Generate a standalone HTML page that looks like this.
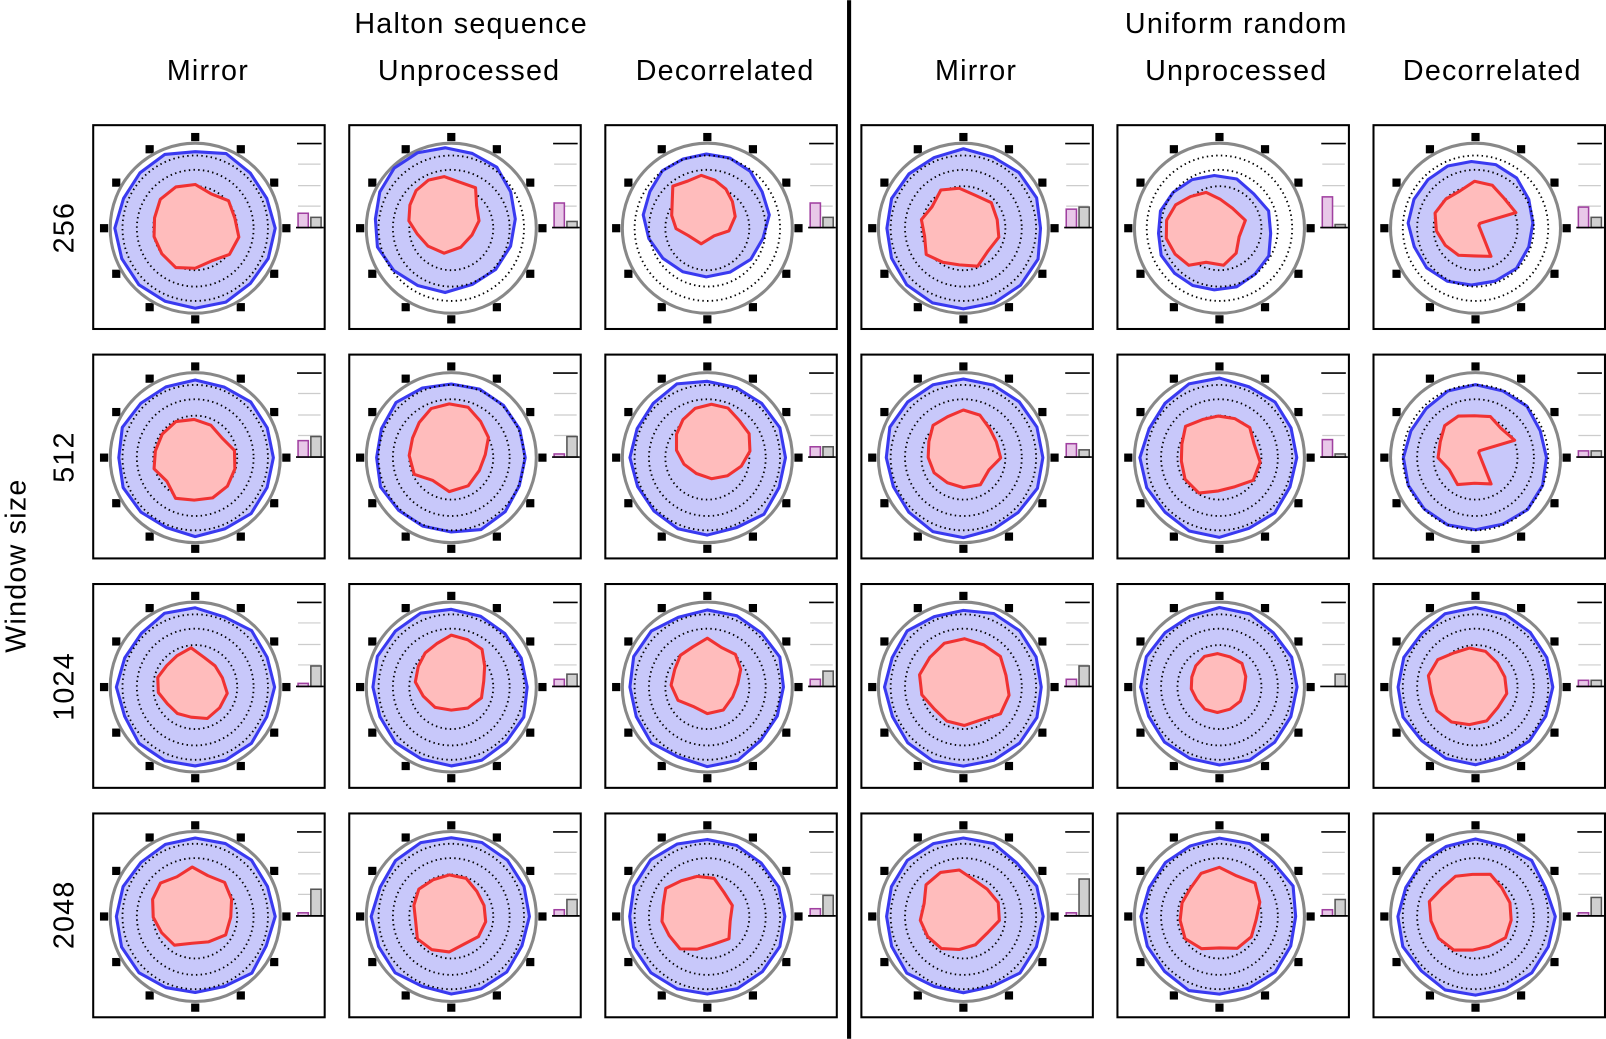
<!DOCTYPE html>
<html><head><meta charset="utf-8">
<style>
html,body{margin:0;padding:0;background:#fff;}
svg{display:block;}
text{font-family:"Liberation Sans",sans-serif;fill:#000;letter-spacing:1.2px;}
</style></head>
<body>
<svg id="s" width="1606" height="1039" viewBox="0 0 1568 1014" xmlns="http://www.w3.org/2000/svg">
<text x="460" y="32" font-size="28" text-anchor="middle">Halton sequence</text>
<text x="1207" y="32" font-size="28" text-anchor="middle">Uniform random</text>
<text x="203" y="78" font-size="28" text-anchor="middle">Mirror</text>
<text x="458" y="78" font-size="28" text-anchor="middle">Unprocessed</text>
<text x="708" y="78" font-size="28" text-anchor="middle">Decorrelated</text>
<text x="953" y="78" font-size="28" text-anchor="middle">Mirror</text>
<text x="1207" y="78" font-size="28" text-anchor="middle">Unprocessed</text>
<text x="1457" y="78" font-size="28" text-anchor="middle">Decorrelated</text>
<rect x="827" y="0" width="4" height="1014" fill="#000"/>
<text transform="translate(25,552) rotate(-90)" font-size="28" text-anchor="middle">Window size</text>
<text transform="translate(72,222) rotate(-90)" font-size="28" text-anchor="middle">256</text>
<text transform="translate(72,446) rotate(-90)" font-size="28" text-anchor="middle">512</text>
<text transform="translate(72,670) rotate(-90)" font-size="28" text-anchor="middle">1024</text>
<text transform="translate(72,893) rotate(-90)" font-size="28" text-anchor="middle">2048</text>
<g id="g"></g>
</svg>
<script>
var lefts=[91,341,591,841,1091,1341], tops=[122,346,570,794];
var P=[
[[[0,0,77],[0,-1,40,0],[14,10]],[[-6,-9,70],[-7,-15,36,0],[24,6]],[[-1,-13,60],[-6,-19,32,0],[24,10]],
 [[0,0,77],[-4,0,38,0],[18,20]],[[-5,5,56],[-13,1,36,0],[30,3]],[[-4,-5,61],[-1,-6,36,1],[20,10]]],
[[[0,0,76],[-1,2,38,0],[16,20]],[[0,0,74],[-2,-11,40,0],[3,20]],[[0,0,76],[4,-15,35,0],[10,10]],
 [[0,0,76],[0,-8,35,0],[13,7]],[[0,0,76],[-1,-5,40,0],[17,3]],[[0,0,70],[-1,-8,35,1],[6,6]]],
[[[0,0,76],[-4,-2,33,0],[3,20]],[[0,0,76],[0,-13,36,0],[7,12]],[[0,0,76],[0,-10,34,0],[7,15]],
 [[0,0,76],[1,-2,42,0],[7,20]],[[0,0,76],[-2,-4,28,0],[0,12]],[[0,0,76],[-6,-2,38,0],[6,6]]],
[[[0,0,76],[-3,-8,38,0],[3,26]],[[0,0,76],[-2,-3,37,0],[6,16]],[[0,0,76],[-10,-3,37,0],[7,20]],
 [[0,0,76],[-4,-5,38,0],[3,36]],[[0,0,76],[0,-5,40,0],[6,16]],[[0,0,76],[-3,-5,40,0],[3,18]]]
];
var seed=7;function rnd(){seed=(seed*16807)%2147483647;return seed/2147483647;}
function poly(cx,cy,r,n,amp,notch){var pts=[];for(var i=0;i<n;i++){var a=-Math.PI/2+i*2*Math.PI/n;var rr=r*(1+(rnd()-0.5)*amp);
 if(notch&&(i==4||i==5))rr=r*0.15; if(notch&&i==3)rr=r*1.15;
 pts.push((cx+rr*Math.cos(a)).toFixed(1)+","+(cy+rr*Math.sin(a)).toFixed(1));}return pts.join(" ");}
var h="";
for(var r=0;r<4;r++)for(var c=0;c<6;c++){
 var x=lefts[c],y=tops[r],cx=x+99.6,cy=y+100.6,d=P[r][c];
 h+='<rect x="'+x+'" y="'+y+'" width="226" height="199" fill="#fff" stroke="#000" stroke-width="2"/>';
 for(var k=0;k<12;k++){var a=k*Math.PI/6;h+='<rect x="'+(cx+89*Math.cos(a)-4).toFixed(1)+'" y="'+(cy+89*Math.sin(a)-4).toFixed(1)+'" width="8" height="8" fill="#000"/>';}
 h+='<circle cx="'+cx+'" cy="'+cy+'" r="83" fill="none" stroke="#888" stroke-width="3"/>';
 h+='<polygon points="'+poly(cx+d[0][0],cy+d[0][1],d[0][2],16,0.06,0)+'" fill="#c8c8fa" stroke="#3a3af0" stroke-width="3" stroke-linejoin="round"/>';
 [71,57,41].forEach(function(rr){h+='<circle cx="'+cx+'" cy="'+cy+'" r="'+rr+'" fill="none" stroke="#000" stroke-width="1.8" stroke-dasharray="1.4,3.2"/>';});
 h+='<polygon points="'+poly(cx+d[1][0],cy+d[1][1],d[1][2],14,0.22,d[1][3])+'" fill="#ffbcbc" stroke="#f03232" stroke-width="3" stroke-linejoin="round"/>';
 h+='<line x1="'+(x+199)+'" y1="'+(y+18)+'" x2="'+(x+223)+'" y2="'+(y+18)+'" stroke="#000" stroke-width="1.6"/>';
 [38,59,79].forEach(function(yy){h+='<line x1="'+(x+200)+'" y1="'+(y+yy)+'" x2="'+(x+222)+'" y2="'+(y+yy)+'" stroke="#ccc" stroke-width="1.2"/>';});
 var b=y+100;
 if(d[2][0]>0)h+='<rect x="'+(x+200)+'" y="'+(b-d[2][0])+'" width="10" height="'+d[2][0]+'" fill="#e8c8e8" stroke="#a040a0" stroke-width="1.5"/>';
 if(d[2][1]>0)h+='<rect x="'+(x+212.5)+'" y="'+(b-d[2][1])+'" width="10" height="'+d[2][1]+'" fill="#d0d0d0" stroke="#555" stroke-width="1.5"/>';
 h+='<line x1="'+(x+198)+'" y1="'+b+'" x2="'+(x+225)+'" y2="'+b+'" stroke="#000" stroke-width="1.6"/>';
}
document.getElementById("g").innerHTML=h;
</script>
</body></html>
